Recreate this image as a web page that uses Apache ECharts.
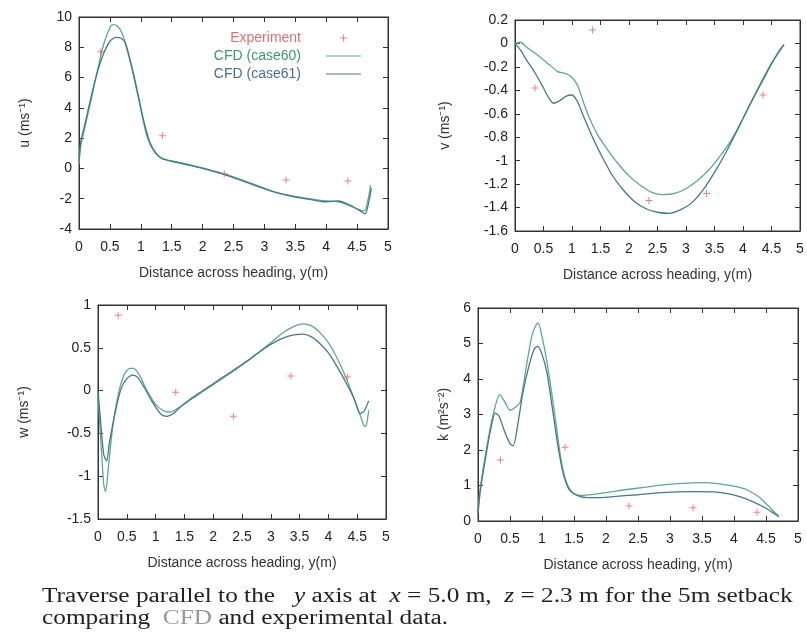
<!DOCTYPE html>
<html>
	<head>
		<meta charset="utf-8" />
		<title>traverse</title>
		<script src="https://cdn.jsdelivr.net/npm/echarts@6/dist/echarts.min.js"></script>
	</head>
	<body style="margin:0;background:#fff;">
		<div id="main" style="width:807px;height:641px;"></div>
	</body>
	<script type="text/javascript">

	// x ticks shared by all four panels
	var xMin = 0, xMax = 5, xStep = 0.5;

	// u panel
	var u60 = [[0,0.3],[0.03,1.5],[0.1,2.8],[0.2,4.6],[0.3,6.5],[0.4,8.2],[0.5,9.3],[0.55,9.5],[0.62,9.4],[0.7,8.9],[0.8,7.5],[0.9,5.8],[1.0,3.9],[1.1,2.1],[1.2,1.2],[1.3,0.75],[1.4,0.58],[1.6,0.42],[1.8,0.24],[2.0,0.04],[2.3,-0.3],[2.6,-0.7],[2.9,-1.15],[3.2,-1.6],[3.5,-1.85],[3.8,-2.05],[4.0,-2.15],[4.2,-2.2],[4.4,-2.5],[4.55,-2.75],[4.62,-2.8],[4.68,-2.0],[4.72,-1.1]];
	var u61 = [[0,0.5],[0.03,1.8],[0.1,3.0],[0.2,4.8],[0.3,6.4],[0.4,7.6],[0.5,8.4],[0.6,8.65],[0.68,8.6],[0.75,8.3],[0.85,6.8],[0.95,5.0],[1.05,3.1],[1.15,1.7],[1.25,1.0],[1.35,0.65],[1.5,0.47],[1.8,0.2],[2.0,0.0],[2.3,-0.35],[2.6,-0.75],[2.9,-1.2],[3.2,-1.6],[3.5,-1.9],[3.8,-2.1],[4.0,-2.2],[4.2,-2.15],[4.4,-2.45],[4.55,-2.8],[4.63,-3.0],[4.68,-2.4],[4.73,-1.3]];
	var uExp = [[0.35,7.7],[1.35,2.15],[2.35,-0.35],[3.35,-0.77],[4.35,-0.83]];

	// v panel
	var v60 = [[0,0.0],[0.1,0.01],[0.2,-0.03],[0.4,-0.1],[0.6,-0.18],[0.75,-0.24],[0.9,-0.26],[1.0,-0.29],[1.1,-0.36],[1.2,-0.5],[1.3,-0.63],[1.45,-0.78],[1.6,-0.89],[1.8,-1.02],[2.0,-1.13],[2.2,-1.21],[2.4,-1.27],[2.6,-1.29],[2.8,-1.28],[3.0,-1.24],[3.2,-1.17],[3.4,-1.08],[3.6,-0.96],[3.8,-0.82],[4.0,-0.64],[4.2,-0.45],[4.4,-0.27],[4.55,-0.13],[4.65,-0.05],[4.72,-0.01]];
	var v61 = [[0,0.0],[0.1,-0.06],[0.2,-0.14],[0.35,-0.25],[0.5,-0.38],[0.6,-0.47],[0.68,-0.51],[0.78,-0.49],[0.9,-0.45],[1.0,-0.44],[1.1,-0.5],[1.2,-0.62],[1.35,-0.79],[1.5,-0.94],[1.7,-1.12],[1.9,-1.25],[2.1,-1.35],[2.3,-1.41],[2.5,-1.44],[2.7,-1.45],[2.9,-1.42],[3.1,-1.36],[3.3,-1.25],[3.5,-1.1],[3.7,-0.93],[3.9,-0.74],[4.1,-0.54],[4.3,-0.35],[4.5,-0.17],[4.65,-0.06],[4.72,-0.01]];
	var vExp = [[0.35,-0.38],[1.36,0.115],[2.35,-1.34],[3.36,-1.28],[4.35,-0.44]];

	// w panel
	var w60 = [[0,-0.05],[0.05,-0.6],[0.1,-1.1],[0.13,-1.18],[0.18,-0.9],[0.25,-0.45],[0.35,-0.05],[0.45,0.18],[0.55,0.26],[0.62,0.26],[0.72,0.18],[0.85,0.0],[1.0,-0.16],[1.15,-0.24],[1.25,-0.25],[1.4,-0.2],[1.6,-0.11],[1.8,-0.02],[2.0,0.07],[2.2,0.16],[2.4,0.25],[2.6,0.35],[2.8,0.45],[3.0,0.56],[3.2,0.67],[3.4,0.75],[3.55,0.78],[3.7,0.76],[3.85,0.68],[4.0,0.56],[4.15,0.38],[4.3,0.16],[4.45,-0.1],[4.57,-0.32],[4.63,-0.42],[4.66,-0.4],[4.7,-0.23]];
	var w61 = [[0,0.0],[0.05,-0.4],[0.1,-0.75],[0.15,-0.82],[0.2,-0.6],[0.3,-0.25],[0.4,0.02],[0.5,0.14],[0.6,0.18],[0.68,0.16],[0.8,0.04],[0.95,-0.14],[1.1,-0.28],[1.2,-0.3],[1.3,-0.27],[1.45,-0.18],[1.6,-0.1],[1.8,-0.01],[2.0,0.08],[2.2,0.17],[2.4,0.26],[2.6,0.35],[2.8,0.45],[3.0,0.54],[3.2,0.61],[3.4,0.65],[3.55,0.66],[3.7,0.63],[3.85,0.55],[4.0,0.44],[4.15,0.28],[4.3,0.1],[4.45,-0.1],[4.55,-0.27],[4.62,-0.24],[4.7,-0.12]];
	var wExp = [[0.35,0.88],[1.35,-0.02],[2.35,-0.3],[3.35,0.17],[4.33,0.16]];

	// k panel
	var k60 = [[0,0.3],[0.04,1.0],[0.12,1.9],[0.2,2.7],[0.28,3.3],[0.34,3.56],[0.42,3.35],[0.5,3.12],[0.58,3.2],[0.66,3.35],[0.75,4.3],[0.84,5.2],[0.9,5.5],[0.94,5.58],[1.0,5.2],[1.08,4.45],[1.16,3.5],[1.23,2.6],[1.3,1.7],[1.38,1.1],[1.48,0.8],[1.6,0.72],[1.8,0.75],[2.0,0.8],[2.3,0.88],[2.6,0.95],[2.9,1.02],[3.2,1.06],[3.5,1.08],[3.8,1.04],[4.0,0.98],[4.2,0.88],[4.4,0.66],[4.55,0.4],[4.65,0.22],[4.7,0.15]];
	var k61 = [[0,0.2],[0.04,0.9],[0.12,1.8],[0.2,2.6],[0.27,3.04],[0.33,2.95],[0.42,2.5],[0.5,2.18],[0.55,2.12],[0.62,2.7],[0.7,3.6],[0.8,4.4],[0.88,4.85],[0.93,4.92],[1.0,4.7],[1.08,4.15],[1.16,3.2],[1.25,2.1],[1.33,1.35],[1.42,0.9],[1.55,0.72],[1.7,0.66],[1.9,0.66],[2.2,0.7],[2.5,0.74],[2.8,0.79],[3.1,0.82],[3.4,0.83],[3.7,0.82],[3.9,0.77],[4.1,0.68],[4.3,0.54],[4.5,0.36],[4.62,0.22],[4.7,0.12]];
	var kExp = [[0.35,1.72],[1.36,2.08],[2.36,0.42],[3.36,0.37],[4.36,0.25]];

	var c60 = '#5fa892';
	var c61 = '#46788c';
	var cExp = '#e06464';
	var plus = 'path://M0,3 H3 V0 H4 V3 H7 V4 H4 V7 H3 V4 H0 Z';
	var font = 'Liberation Sans';

	// one entry per panel: box, y range, axis name
	var panels = [
		{box: [79, 17, 309, 212], min: -4, max: 10, step: 2, name: 'u (ms\u207B\u00B9)', gap: 47, d60: u60, d61: u61, exp: uExp},
		{box: [515, 20, 285, 211], min: -1.6, max: 0.2, step: 0.2, name: 'v (ms\u207B\u00B9)', gap: 63, d60: v60, d61: v61, exp: vExp},
		{box: [98, 305, 288, 214], min: -1.5, max: 1, step: 0.5, name: 'w (ms\u207B\u00B9)', gap: 67, d60: w60, d61: w61, exp: wExp},
		{box: [478, 308, 320, 213], min: 0, max: 6, step: 1, name: 'k (m\u00B2s\u207B\u00B2)', gap: 27, d60: k60, d61: k61, exp: kExp}
	];

	var grids = [], xAxes = [], yAxes = [], series = [];
	var lineAx = {show: true, onZero: false, lineStyle: {color: '#333', width: 1}};
	var tickIn = {show: true, inside: true, length: 5, lineStyle: {color: '#333'}};

	for (var i = 0; i < panels.length; i++) {
		var p = panels[i];
		grids.push({left: p.box[0], top: p.box[1], width: p.box[2], height: p.box[3], show: true, borderColor: '#333', borderWidth: 1});

		xAxes.push({
			type: 'value', gridIndex: i, min: xMin, max: xMax, interval: xStep, position: 'bottom',
			axisLine: lineAx, axisTick: tickIn, splitLine: {show: false},
			axisLabel: {fontFamily: font, fontSize: 14, color: '#222', margin: 11},
			name: 'Distance across heading, y(m)', nameLocation: 'middle', nameGap: 37,
			nameTextStyle: {fontFamily: font, fontSize: 14, color: '#333'}
		});
		// mirror ticks on top
		xAxes.push({
			type: 'value', gridIndex: i, min: xMin, max: xMax, interval: xStep, position: 'top',
			axisLine: lineAx, axisTick: tickIn, axisLabel: {show: false}, splitLine: {show: false}
		});

		yAxes.push({
			type: 'value', gridIndex: i, min: p.min, max: p.max, interval: p.step, position: 'left',
			axisLine: lineAx, axisTick: tickIn, splitLine: {show: false},
			axisLabel: {fontFamily: font, fontSize: 14, color: '#222', margin: 7},
			name: p.name, nameLocation: 'middle', nameRotate: 90, nameGap: p.gap,
			nameTextStyle: {fontFamily: font, fontSize: 14, color: '#333'}
		});
		yAxes.push({
			type: 'value', gridIndex: i, min: p.min, max: p.max, interval: p.step, position: 'right',
			axisLine: lineAx, axisTick: tickIn, axisLabel: {show: false}, splitLine: {show: false}
		});

		series.push({
			name: 'Experiment', type: 'scatter', xAxisIndex: 2 * i, yAxisIndex: 2 * i,
			symbol: plus, symbolSize: 7, itemStyle: {color: cExp}, data: p.exp, z: 3
		});
		series.push({
			name: 'CFD (case60)', type: 'line', xAxisIndex: 2 * i, yAxisIndex: 2 * i,
			symbol: 'none', smooth: 0.25, lineStyle: {color: c60, width: 1.3}, itemStyle: {color: c60}, data: p.d60
		});
		series.push({
			name: 'CFD (case61)', type: 'line', xAxisIndex: 2 * i, yAxisIndex: 2 * i,
			symbol: 'none', smooth: 0.25, lineStyle: {color: c61, width: 1.3}, itemStyle: {color: c61}, data: p.d61
		});
	}

	// legend icons: a thin bar for lines, a small plus for points
	var iconLine = 'path://M0,0 M35,14 M0,6.4 H35 V7.6 H0 Z';
	var iconPlus = 'path://M0,0 M35,14 M14,6.5 H17 V3.5 H18 V6.5 H21 V7.5 H18 V10.5 H17 V7.5 H14 Z';

	var myChart = echarts.init(document.getElementById('main'));
	var option = {
		backgroundColor: '#fff',
		animation: false,
		grid: grids,
		xAxis: xAxes,
		yAxis: yAxes,
		legend: {
			orient: 'vertical', align: 'right', right: 441, top: 26,
			itemWidth: 35, itemHeight: 14, itemGap: 4,
			textStyle: {fontFamily: font, fontSize: 14, padding: [0, 20, 0, 0]},
			data: [
				{name: 'Experiment', icon: iconPlus, textStyle: {color: '#e07070'}},
				{name: 'CFD (case60)', icon: iconLine, textStyle: {color: '#3c9a6c'}},
				{name: 'CFD (case61)', icon: iconLine, textStyle: {color: '#4a6c98'}}
			]
		},
		graphic: [{
			type: 'text', left: 42, top: 586, scaleX: 1.265, originX: 0,
			style: {
				text: 'Traverse parallel to the   {i|y} axis at  {i|x} = 5.0 m,  {i|z} = 2.3 m for the 5m setback\ncomparing  {g|CFD} and experimental data.',
				font: '20px "Liberation Serif"', fill: '#222', lineHeight: 22,
				rich: {
					i: {fontStyle: 'italic', fontFamily: 'Liberation Serif', fontSize: 20, fill: '#222'},
					g: {fontFamily: 'Liberation Serif', fontSize: 20, fill: '#999'}
				}
			}
		}],
		series: series
	};
	myChart.setOption(option);

	</script>
</html>
